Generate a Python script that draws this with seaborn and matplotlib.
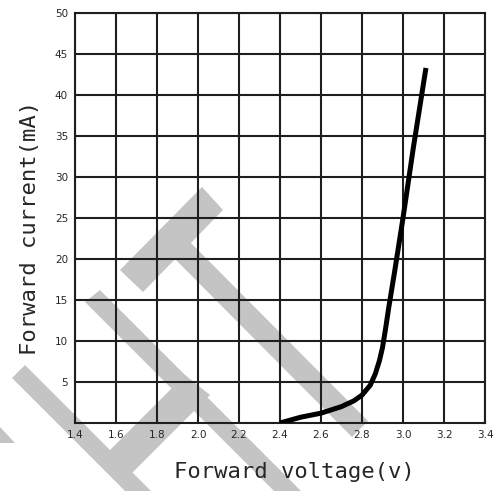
import numpy as np
import pandas as pd
import matplotlib
matplotlib.use("Agg")
import matplotlib.pyplot as plt
from matplotlib.patches import Polygon
import seaborn as sns

# Forward voltage (V) vs forward current (mA)
voltage = [2.40, 2.50, 2.60, 2.70, 2.76, 2.80, 2.84, 2.865, 2.885, 2.90, 2.915, 2.93, 2.96, 3.00, 3.05, 3.112]
current = [0.0, 0.7, 1.2, 2.0, 2.7, 3.4, 4.6, 6.0, 7.6, 9.2, 11.5, 14.0, 18.6, 25.0, 33.5, 43.3]

x_ticks = [1.4, 1.6, 1.8, 2.0, 2.2, 2.4, 2.6, 2.8, 3.0, 3.2, 3.4]
y_ticks = [5, 10, 15, 20, 25, 30, 35, 40, 45, 50]

df = pd.DataFrame({"voltage": voltage, "current": current})

sns.set_theme(style="white")
plt.rcParams['font.family'] = ['DejaVu Sans']

W, H = 496, 491
fig = plt.figure(figsize=(W / 100, H / 100), dpi=100)
ax = fig.add_axes([75 / W, 1 - 423 / H, 410 / W, 410 / H])
ax.patch.set_alpha(0)

# grey watermark stripes behind the grid (pixel coords, top-left origin)
watermark = [
    [(12, 378), (25, 365), (151, 491), (125, 491)],
    [(85, 302), (100, 290), (301, 491), (274, 491)],
    [(100, 460), (185, 375), (210, 395), (125, 480)],
    [(202, 187), (223, 210), (143, 292), (120, 270)],
    [(180, 232), (165, 249), (352, 437), (368, 421)],
    [(0, 427), (15, 443), (0, 443)],
]
for poly in watermark:
    pts = [(px / W, 1 - py / H) for px, py in poly]
    fig.patches.append(Polygon(pts, closed=True, transform=fig.transFigure,
                               facecolor="#c4c4c4", edgecolor="none", zorder=-1))

line_color = "#1e1e1e"
ax.grid(True, color=line_color, linewidth=1.5)
ax.set_axisbelow(True)

sns.lineplot(data=df, x="voltage", y="current", ax=ax, sort=False,
             estimator=None, color="black", linewidth=3.6,
             solid_joinstyle="round", solid_capstyle="butt", zorder=5)

ax.set_xlim(1.4, 3.4)
ax.set_ylim(0, 50)
ax.set_xticks(x_ticks)
ax.set_xticklabels([f"{v:.1f}" for v in x_ticks], fontsize=7.5)
ax.set_yticks(y_ticks)
ax.set_yticklabels([str(v) for v in y_ticks], fontsize=7.5)
ax.tick_params(length=0, pad=5)

for s in ax.spines.values():
    s.set_visible(True)
    s.set_color(line_color)
    s.set_linewidth(1.5)

ax.set_xlabel("Forward voltage(v)", fontsize=16, family="DejaVu Sans Mono")
ax.set_ylabel("Forward current(mA)", fontsize=16, family="DejaVu Sans Mono")
ax.xaxis.set_label_coords(0.534, -0.095)
ax.yaxis.set_label_coords(-0.085, 0.476)

fig.savefig("out.png", dpi=100)
